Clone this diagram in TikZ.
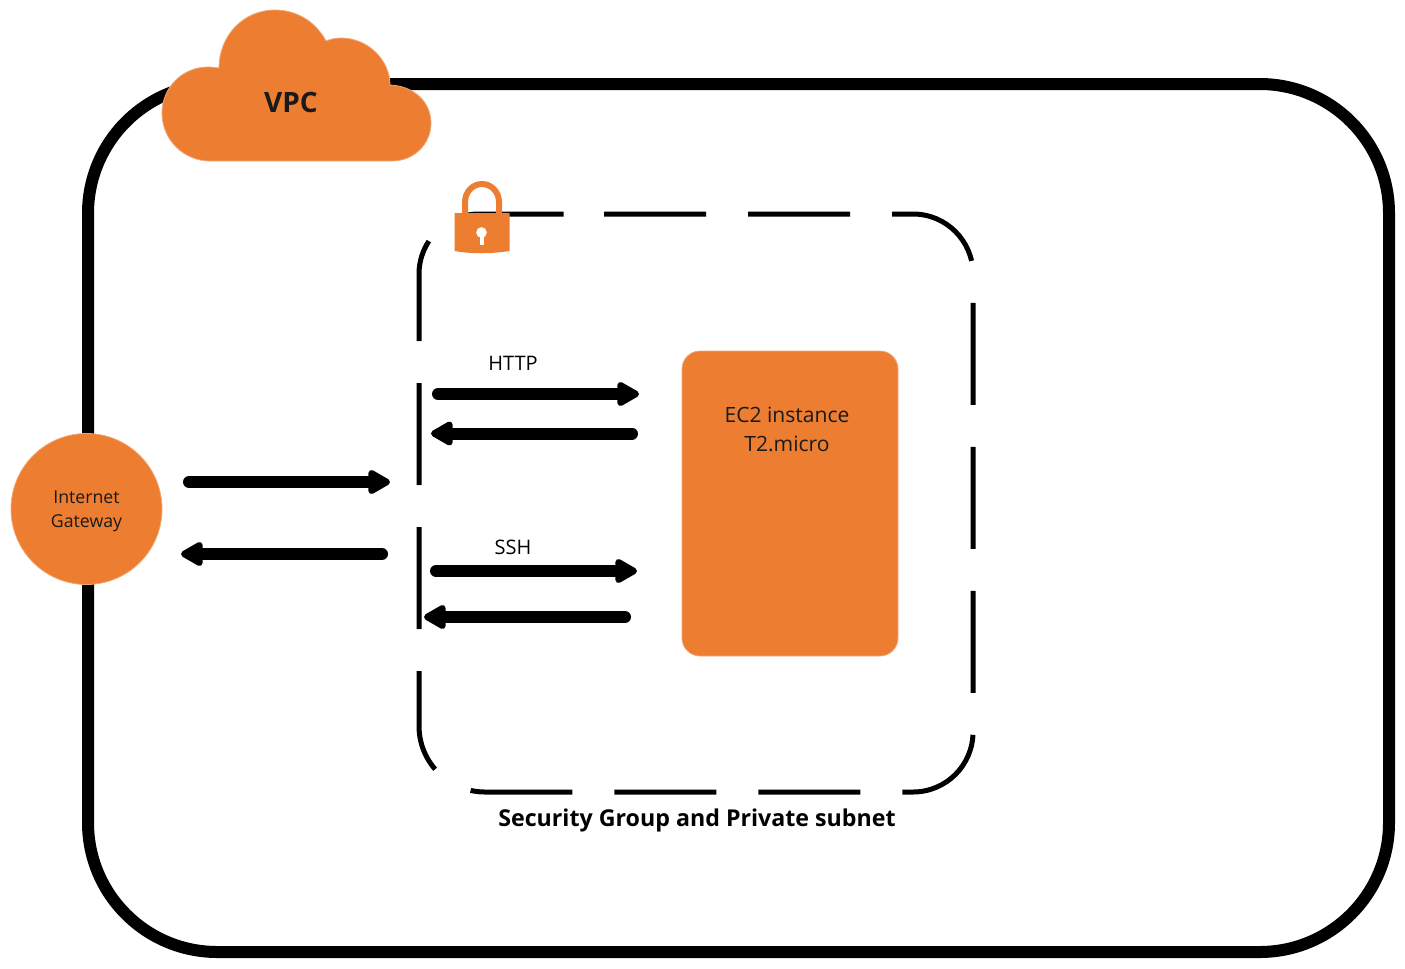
\documentclass[tikz,border=0pt]{standalone}
\usepackage{fontspec}
\setmainfont{Open Sans}
\usetikzlibrary{arrows.meta}
\definecolor{awsorange}{HTML}{ED7D31}
\definecolor{awsedge}{HTML}{F0A878}
\definecolor{labeltext}{HTML}{1A1A1A}

\begin{document}
\begin{tikzpicture}[x=0.75pt,y=-0.75pt,>={Triangle[round,length=19pt,width=20pt,line width=8pt]},
    flow/.style={->,line width=9pt,line cap=round},
    orange node/.style={fill=awsorange,draw=awsedge,line width=0.6pt,inner sep=0pt,text=labeltext},
    plain label/.style={font=\fontsize{15}{21.75}\selectfont,text=black,inner sep=0pt,align=center}]
    \useasboundingbox (0,0) rectangle (1405,968);

    % vpc and subnet outlines
    \draw[line width=9pt,rounded corners=97pt] (88,84) rectangle (1389,952);
    \draw[line width=3.75pt,dash pattern=on 76.5pt off 31.5pt,rounded corners=45pt]
        (544,214) -- (973,214) -- (973,792) [rounded corners=49.5pt] -- (419,792) [rounded corners=45pt] -- (419,214) -- cycle;

    % cloud
    \draw[fill=awsorange,draw=awsedge,line width=0.6pt]
        (210,161) .. controls (184,161) and (162,140) .. (162,113)
        .. controls (162,88) and (182,67) .. (208,67)
        .. controls (212,67) and (215,67.5) .. (219,68)
        .. controls (219,36) and (243,10) .. (275,10)
        .. controls (297,10) and (316,22) .. (326,41)
        .. controls (331,39) and (336,38) .. (341,38)
        .. controls (368,38) and (390,60) .. (390,85)
        .. controls (414,86) and (431,102) .. (431,123)
        .. controls (431,144) and (414,161) .. (392,161) -- cycle;
    \node[font=\bfseries\fontsize{21}{25}\selectfont,text=labeltext,inner sep=0pt] (vpc) at (291,102) {VPC};

    % lock
    \draw[awsorange,line width=4.5pt] (465,216) -- (465,202) arc (180:360:17 and 18) -- (499,216);
    \fill[awsorange] (454.5,213) -- (509.5,213) -- (509.5,251) .. controls (490,254) and (472,254) .. (454.5,251) -- cycle;
    \fill[white] (481.5,232.5) circle (4pt);
    \fill[white] (479.5,234) rectangle (483.5,244.5);

    % gateway and instance
    \node[orange node,circle,minimum size=113.25pt] (gateway) at (86.5,509) {};
    \node[plain label,text=labeltext,font=\fontsize{13.3}{18}\selectfont] (gateway text) at (86.5,511) {Internet\\Gateway};
    \node[orange node,rectangle,rounded corners=13.5pt,minimum width=162pt,minimum height=228.75pt] (ec2) at (790,503.5) {};
    \node[plain label,text=labeltext,font=\fontsize{15.8}{21.75}\selectfont] (ec2 text) at (787,429.5) {EC2 instance\\T2.micro};

    % traffic
    \coordinate (gateway out) at (189,482);
    \coordinate (subnet in) at (390,482);
    \coordinate (subnet out) at (382,554);
    \coordinate (gateway in) at (181,554);
    \coordinate (http start) at (438,394);
    \coordinate (http end) at (639,394);
    \coordinate (http back) at (632,433.5);
    \coordinate (http stop) at (431,433.5);
    \coordinate (ssh start) at (436,571);
    \coordinate (ssh end) at (637,571);
    \coordinate (ssh back) at (625,617);
    \coordinate (ssh stop) at (424,617);

    \draw[flow] (gateway out) -- (subnet in);
    \draw[flow] (subnet out) -- (gateway in);
    \draw[flow] (http start) -- (http end);
    \draw[flow] (http back) -- (http stop);
    \draw[flow] (ssh start) -- (ssh end);
    \draw[flow] (ssh back) -- (ssh stop);

    \node[plain label] (http label) at (513,363) {HTTP};
    \node[plain label] (ssh label) at (513,547) {SSH};
    \node[font=\bfseries\fontsize{17.4}{22}\selectfont,text=black,inner sep=0pt] (subnet label) at (697,820) {Security Group and Private subnet};
\end{tikzpicture}
\end{document}
